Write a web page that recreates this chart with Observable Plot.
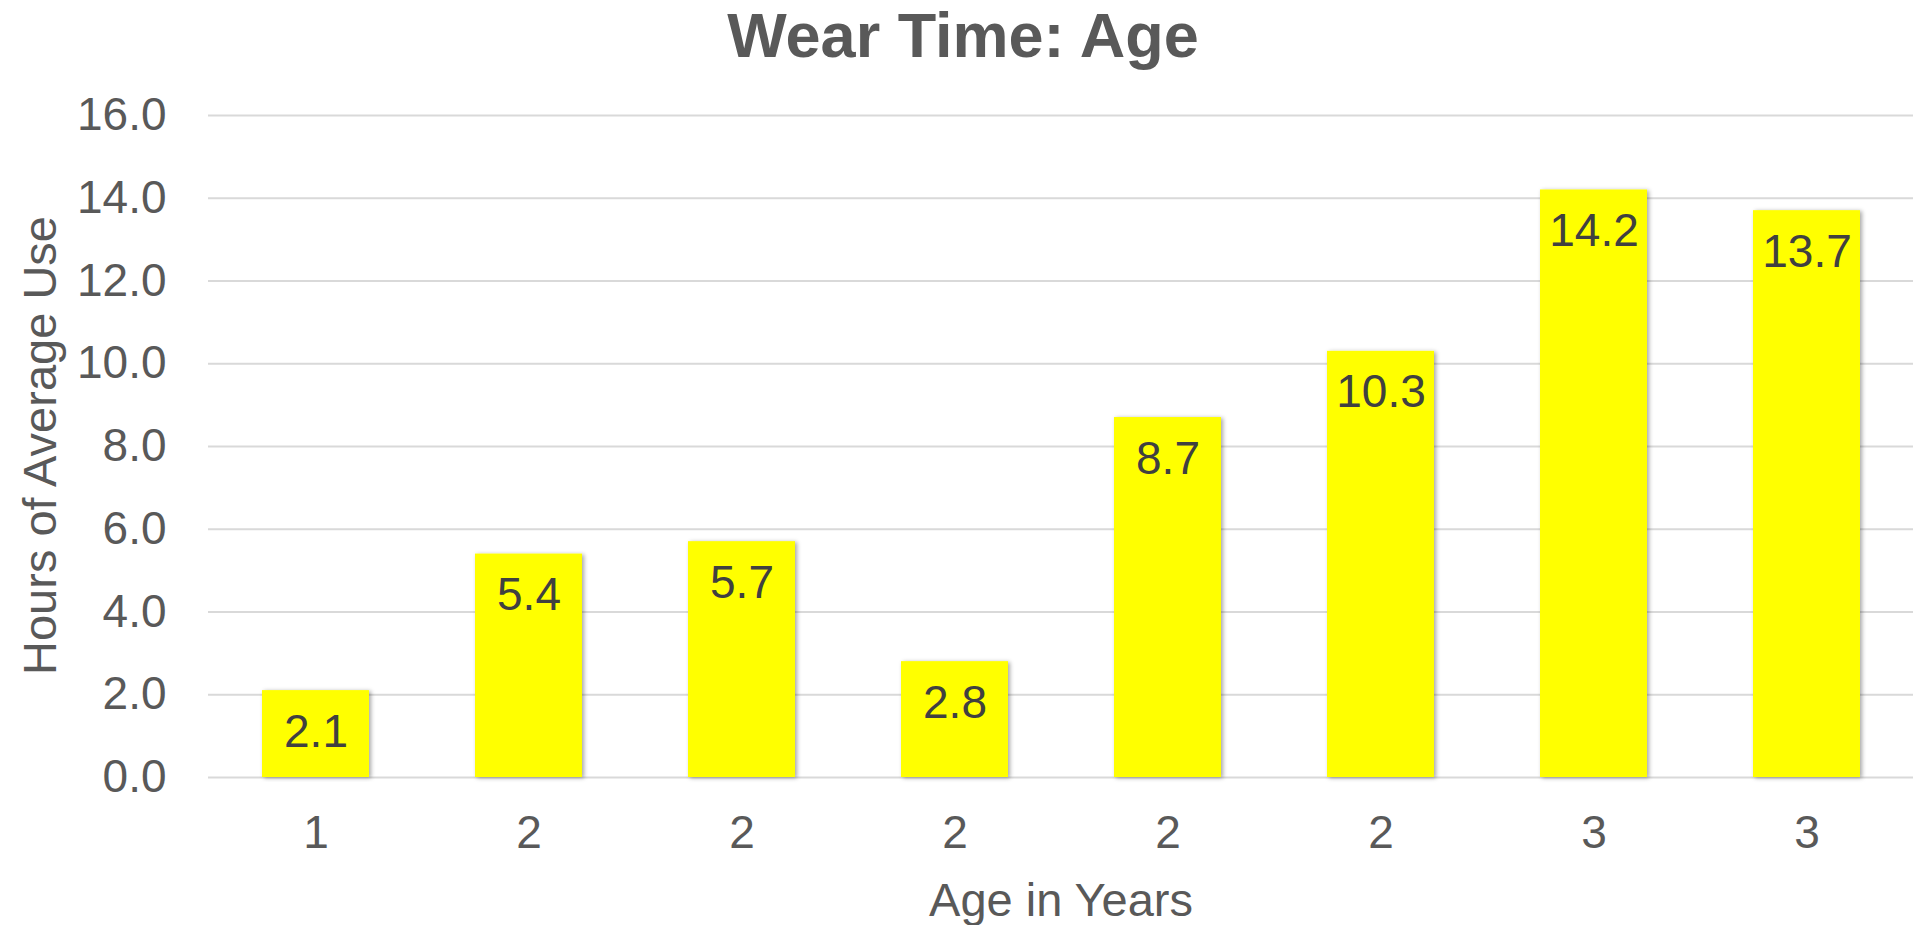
<!DOCTYPE html>
<html>
<head>
<meta charset="utf-8">
<script src="https://cdn.jsdelivr.net/npm/d3@7"></script>
<script src="https://cdn.jsdelivr.net/npm/@observablehq/plot@0.6"></script>
<style>
  html, body { margin: 0; padding: 0; background: #ffffff; }
  #title { height: 70px; line-height: 70px; text-align: center; font-family: "Liberation Sans", Arial, sans-serif; font-weight: bold; font-size: 63px; color: #595959; width: 1926px; }
  svg { display: block; }
</style>
</head>
<body>
<div id="title">Wear Time: Age</div>
<div id="chart"></div>
<script>
const ageLabels = ["1", "2", "2", "2", "2", "2", "3", "3"];
const hours = [2.1, 5.4, 5.7, 2.8, 8.7, 10.3, 14.2, 13.7];
const yTicks = [0, 2, 4, 6, 8, 10, 12, 14, 16];
const xTitle = "Age in Years";
const yTitle = "Hours of Average Use";

const data = hours.map((v, i) => ({i, label: ageLabels[i], value: v}));
const font = "'Liberation Sans', Arial, sans-serif";

const chart = Plot.plot({
  width: 1926,
  height: 855,
  marginTop: 45,
  marginBottom: 148,
  marginLeft: 208,
  marginRight: 13,
  style: {fontFamily: font, background: "#ffffff"},
  x: {type: "band", domain: data.map(d => d.i), paddingInner: 0.5, paddingOuter: 0.25, label: null},
  y: {domain: [0, 16], label: null},
  marks: [
    Plot.ruleY(yTicks, {stroke: "#d9d9d9", strokeWidth: 2}),
    Plot.barY(data, {x: "i", y: "value", fill: "#FFFF00"}),
    Plot.axisY({ticks: yTicks, tickFormat: d => d.toFixed(1), tickSize: 0, tickPadding: 42, fontSize: 46, fill: "#595959", label: null}),
    Plot.axisX({tickFormat: i => ageLabels[i], tickSize: 0, tickPadding: 38, fontSize: 46, fill: "#595959", label: null}),
    Plot.text(data, {x: "i", y: "value", text: d => d.value.toFixed(1), dy: 56, lineAnchor: "bottom", fontSize: 46, fill: "#404040"}),
    Plot.text([xTitle], {frameAnchor: "bottom", dy: 138, textAnchor: "middle", lineAnchor: "bottom", fontSize: 47, fill: "#595959"}),
    Plot.text([yTitle], {frameAnchor: "left", rotate: -90, dx: -153, dy: -1, textAnchor: "middle", lineAnchor: "bottom", fontSize: 47, fill: "#595959"})
  ]
});

// subtle drop shadow on bars, like the original
const svg = d3.select(chart);
const defs = svg.insert("defs", ":first-child");
const f = defs.append("filter").attr("id", "barShadow").attr("x", "-20%").attr("y", "-5%").attr("width", "140%").attr("height", "110%");
f.append("feDropShadow").attr("dx", 2).attr("dy", 1).attr("stdDeviation", 2).attr("flood-color", "#000").attr("flood-opacity", 0.35);
svg.selectAll("g[aria-label='bar'] rect").attr("filter", "url(#barShadow)");

document.getElementById("chart").appendChild(chart);
</script>
</body>
</html>
